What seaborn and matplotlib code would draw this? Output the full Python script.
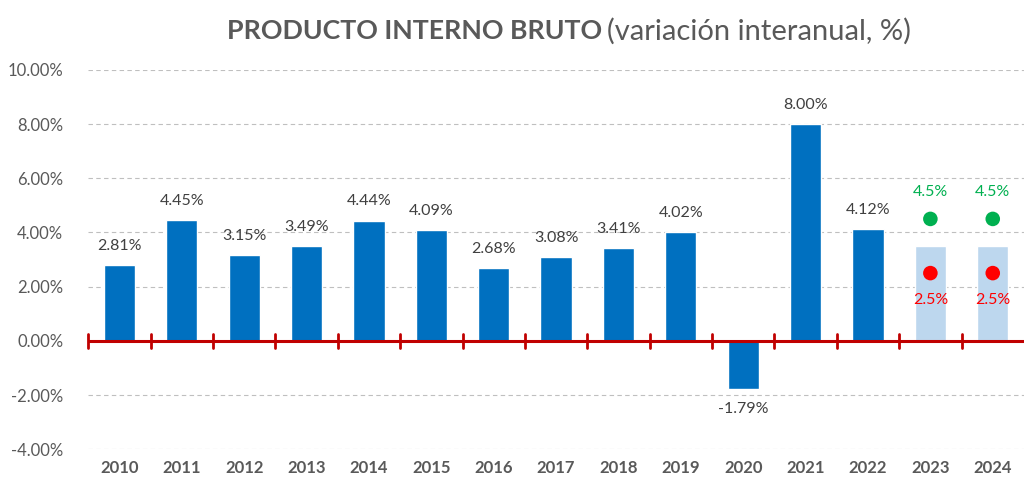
import numpy as np
import pandas as pd
import matplotlib
matplotlib.use('Agg')
import matplotlib.pyplot as plt
import seaborn as sns
from matplotlib.ticker import FuncFormatter

# datos
years = ['2010', '2011', '2012', '2013', '2014', '2015', '2016', '2017',
         '2018', '2019', '2020', '2021', '2022', '2023', '2024']
pib = [2.81, 4.45, 3.15, 3.49, 4.44, 4.09, 2.68, 3.08, 3.41, 4.02, -1.79, 8.00, 4.12, 3.5, 3.5]
proy_years = ['2023', '2024']
proy_alto = [4.5, 4.5]
proy_bajo = [2.5, 2.5]

sns.set_theme(style='white')
plt.rcParams['font.family'] = ['Lato', 'DejaVu Sans']

df = pd.DataFrame({'anio': years, 'pib': pib})
df['tipo'] = ['proy' if y in proy_years else 'real' for y in years]

fig = plt.figure(figsize=(10.26, 4.82), dpi=100)
ax = fig.add_axes([0.086, 0.068, 0.912, 0.787])

colores = {'real': '#0070C0', 'proy': '#BDD7EE'}
sns.barplot(data=df, x='anio', y='pib', hue='tipo', palette=colores, dodge=False,
            width=0.5, legend=False, ax=ax, saturation=1)

# puntos de proyeccion
dots = pd.DataFrame({'anio': proy_years * 2,
                     'val': proy_alto + proy_bajo,
                     'esc': ['alto'] * 2 + ['bajo'] * 2})
sns.scatterplot(data=dots, x='anio', y='val', hue='esc',
                palette={'alto': '#00B050', 'bajo': '#FF0000'},
                s=110, edgecolor='none', legend=False, ax=ax, zorder=5)

ax.set_ylim(-4, 10)
ax.set_xlim(-0.5, len(years) - 0.5)
ax.set_yticks(np.arange(-4, 10.1, 2))
ax.yaxis.set_major_formatter(FuncFormatter(lambda v, p: f'{v:.2f}%'))

# grid discontinua
for v in np.arange(-4, 10.1, 2):
    if v != 0:
        ax.axhline(v, color='#BFBFBF', lw=0.8, ls=(0, (4, 3)), zorder=0)

# eje cero rojo con marcas
ax.axhline(0, color='#C00000', lw=2.2, zorder=6)
for k in range(len(years)):
    ax.plot([k - 0.5, k - 0.5], [-0.25, 0.25], color='#C00000', lw=2, zorder=6,
            clip_on=False)

for s in ax.spines.values():
    s.set_visible(False)

ax.set_xlabel('')
ax.set_ylabel('')
ax.tick_params(axis='both', length=0)
ax.tick_params(axis='y', labelsize=12, labelcolor='#595959', pad=18)
ax.tick_params(axis='x', labelsize=12, labelcolor='#595959', pad=8)
for t in ax.get_xticklabels():
    t.set_fontweight('bold')

# etiquetas de datos
for i, (y, v) in enumerate(zip(years, pib)):
    if y in proy_years:
        continue
    if v >= 0:
        ax.text(i, v + 0.45, f'{v:.2f}%', ha='center', va='bottom', fontsize=11.5, color='#404040')
    else:
        ax.text(i, v - 0.45, f'{v:.2f}%', ha='center', va='top', fontsize=11.5, color='#404040')

pos = {y: i for i, y in enumerate(years)}
for y, a, b in zip(proy_years, proy_alto, proy_bajo):
    ax.text(pos[y], a + 0.75, f'{a:.1f}%', ha='center', va='bottom', fontsize=11.5, color='#00B050')
    ax.text(pos[y], b - 0.75, f'{b:.1f}%', ha='center', va='top', fontsize=11.5, color='#FF0000')

# titulo
fig.text(0.587, 0.935, 'PRODUCTO INTERNO BRUTO', ha='right', va='center',
         fontsize=19.3, fontweight='bold', color='#595959')
fig.text(0.592, 0.935, '(variación interanual, %)', ha='left', va='center',
         fontsize=21, color='#595959')

fig.savefig('out.png', dpi=100)
